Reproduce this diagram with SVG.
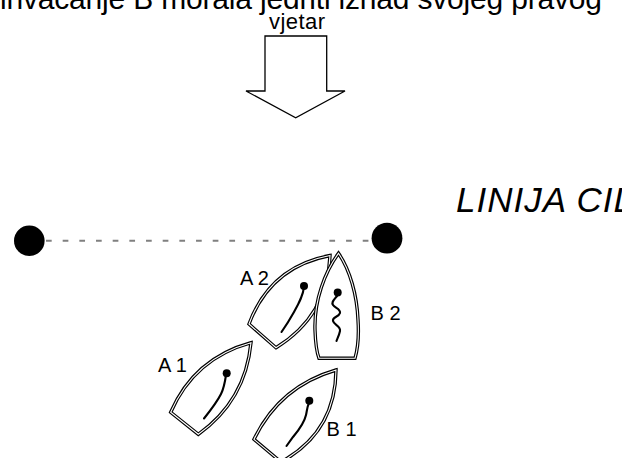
<svg xmlns="http://www.w3.org/2000/svg" width="639" height="458" viewBox="0 0 639 458">
<style>
.t{font-family:"Liberation Sans",Arial,sans-serif;fill:#000}
.hullo{fill:#fff;stroke:#000;stroke-width:3.4;stroke-linejoin:miter}
.hulli{fill:none;stroke:#fff;stroke-width:1.1;stroke-linejoin:miter}
.tell{fill:none;stroke:#000;stroke-width:2.1;stroke-linecap:round}
.lbl{font-size:20px}
</style>
<defs>
<clipPath id="clipR"><rect x="0" y="0" width="622" height="458"/></clipPath>
<path id="hA2" d="M249,324 C263.1,285.9 290.1,263 330,255.5 C328.4,295.9 310.4,326.6 276,347.7 Z"/>
<path id="hB2" d="M338.5,253.3 C325,272 314,300 315,330 C315.5,345 317,353 319,358.3 L355,358.3 C358,348 359,335 358,320 C357,295 350,270 338.5,253.3 Z"/>
<path id="hA1" d="M170.7,412.3 C186.4,376.3 213.1,353.1 251,342.7 C247.3,381.2 229.8,411.8 198.3,434.3 Z"/>
<path id="hB1" d="M254,439.3 C271,404 298.4,380.9 336,370 C335.7,411.5 317.3,442.1 281,462 Z"/>
</defs>

<text class="t" x="0" y="8.5" font-size="30" textLength="602" lengthAdjust="spacing">invačanje B morala jedriti iznad svojeg pravog</text>

<g id="wind">
<text class="t" x="269" y="28.5" font-size="22" textLength="56" lengthAdjust="spacing">vjetar</text>
<polygon points="265,36 326.7,36 326.7,91 345,91 295.7,117.7 246,91 265,91" fill="#fff" stroke="#000" stroke-width="1.3"/>
</g>

<g id="finish-label" clip-path="url(#clipR)">
<text class="t" x="456" y="212" font-size="35" font-style="italic" letter-spacing="1">LINIJA CILJA</text>
</g>

<g id="connectors">
<line x1="46" y1="240.7" x2="371" y2="240.7" stroke="#808080" stroke-width="2" stroke-dasharray="5.7 10.97"/>
</g>

<g id="mark-left"><circle cx="29.3" cy="240.7" r="15.3" fill="#000"/></g>
<g id="mark-right"><circle cx="387" cy="238.2" r="15.4" fill="#000"/></g>

<g id="boat-A2">
<use href="#hA2" class="hullo"/><use href="#hA2" class="hulli"/>
<path class="tell" d="M304,287 C303,296 299,303 294,312 C289,321 285,327 281.5,332"/>
<circle cx="304" cy="286" r="4" fill="#000"/>
<text class="t lbl" x="240" y="285">A 2</text>
</g>

<g id="boat-B2">
<use href="#hB2" class="hullo"/><use href="#hB2" class="hulli"/>
<path class="tell" d="M337,296 C334,300 331,302 333,305 C335,308 341,309 340,313 C339,317 332,317 333,321 C334,325 341,326 340,331 C339,336 337,339 336.5,341"/>
<circle cx="337.7" cy="292.5" r="4" fill="#000"/>
<text class="t lbl" x="370.5" y="320">B 2</text>
</g>

<g id="boat-A1">
<use href="#hA1" class="hullo"/><use href="#hA1" class="hulli"/>
<path class="tell" d="M226,375 C225,382 224,388 221,394 C217,402 210,411 204,418.5"/>
<circle cx="226.7" cy="373.3" r="4" fill="#000"/>
<text class="t lbl" x="158" y="371.7">A 1</text>
</g>

<g id="boat-B1">
<use href="#hB1" class="hullo"/><use href="#hB1" class="hulli"/>
<path class="tell" d="M309,403 C307,407 307,411 306,415 C304,424 298,431 293,437 L286.5,446"/>
<circle cx="309.3" cy="400.7" r="4" fill="#000"/>
<text class="t lbl" x="326.5" y="435.5">B 1</text>
</g>
</svg>
